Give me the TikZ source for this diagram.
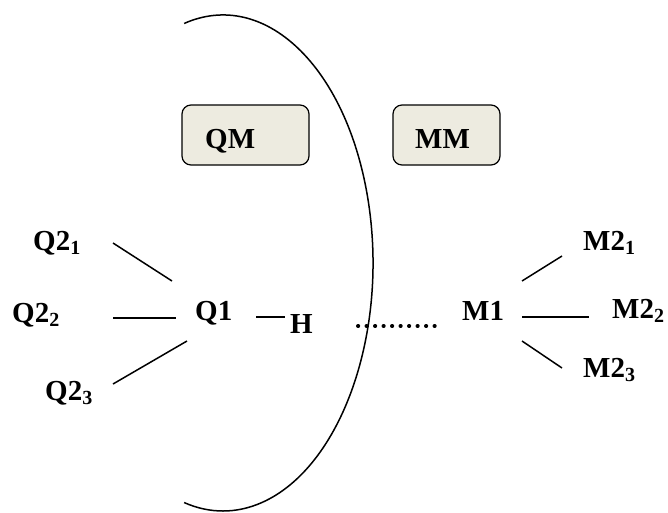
\documentclass[tikz,border=0pt]{standalone}
\usepackage{fontspec}
\setmainfont{Liberation Serif}
\definecolor{tagfill}{RGB}{237,235,224}
\newcommand{\sbs}[1]{\raisebox{-4.5pt}{\fontsize{20}{20}\selectfont #1}}
\begin{document}
\begin{tikzpicture}[x=1pt,y=-1pt,
  lbl/.style={anchor=base west,inner sep=0pt,font=\fontsize{29}{29}\selectfont\bfseries},
  tag/.style={draw,line width=1.2pt,rounded corners=9pt,fill=tagfill},
  bond/.style={line width=1.5pt},
  hb/.style={line width=4pt,line cap=round,dash pattern=on 0.2pt off 8.3pt}]
\useasboundingbox (0,0) rectangle (668,512);
% boundary arc
\draw[line width=1.5pt] (223,263) ++(105:150 and -248) arc[start angle=105,end angle=-105,x radius=150,y radius=-248];
% boxes
\draw[tag] (182,105) rectangle (309,165);
\draw[tag] (393,105) rectangle (500,165);
\node[lbl] (qm) at (205,148) {QM};
\node[lbl] (mm) at (415,148) {MM};
% atoms
\node[lbl] (q21) at (33,250) {Q2\sbs{1}};
\node[lbl] (q22) at (12,322) {Q2\sbs{2}};
\node[lbl] (q23) at (45,400) {Q2\sbs{3}};
\node[lbl] (q1) at (195,320) {Q1};
\node[lbl] (h) at (290,333) {H};
\node[lbl] (m1) at (462,320) {M1};
\node[lbl] (m21) at (583,250) {M2\sbs{1}};
\node[lbl] (m22) at (612,318) {M2\sbs{2}};
\node[lbl] (m23) at (583,377) {M2\sbs{3}};
% connector end points
\coordinate (a1) at (113,243); \coordinate (b1) at (172,281);
\coordinate (a2) at (113,318); \coordinate (b2) at (176,318);
\coordinate (a3) at (113,384); \coordinate (b3) at (187,341);
\coordinate (a4) at (256,317); \coordinate (b4) at (285,317);
\coordinate (c1) at (522,281); \coordinate (d1) at (562,256);
\coordinate (c2) at (522,317); \coordinate (d2) at (589,317);
\coordinate (c3) at (522,341); \coordinate (d3) at (562,368);
\draw[bond] (a1) -- (b1);
\draw[bond] (a2) -- (b2);
\draw[bond] (a3) -- (b3);
\draw[bond] (a4) -- (b4);
\draw[bond] (c1) -- (d1);
\draw[bond] (c2) -- (d2);
\draw[bond] (c3) -- (d3);
% hydrogen bond
\coordinate (e1) at (358,326); \coordinate (e2) at (438,326);
\draw[hb] (e1) -- (e2);
\end{tikzpicture}
\end{document}
